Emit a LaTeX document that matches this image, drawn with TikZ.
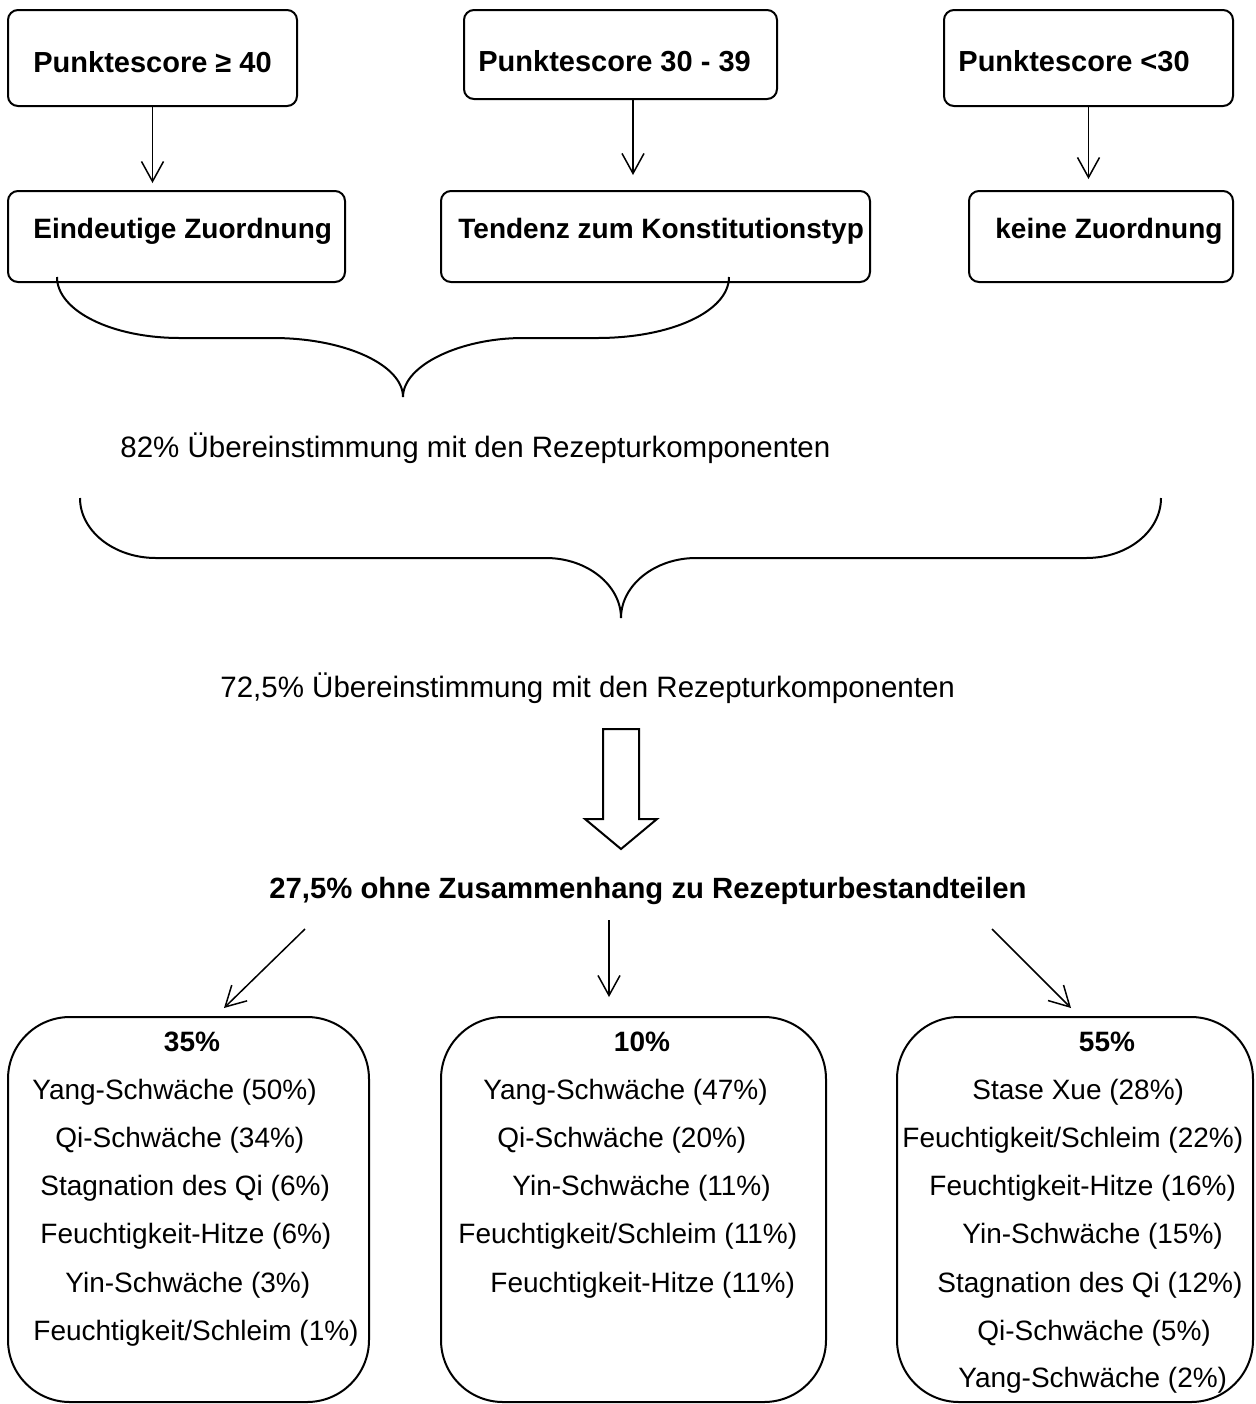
\documentclass[tikz,border=0pt]{standalone}
\usepackage{fontspec}
\setmainfont{Liberation Sans}
\usetikzlibrary{arrows.meta}
\begin{document}
\begin{tikzpicture}[x=0.5pt,y=-0.5pt,
  topbox/.style={draw,line width=1pt,rounded corners=5pt,inner sep=0pt,outer sep=0pt},
  bigbox/.style={draw,line width=1pt,rounded corners=31pt,inner sep=0pt,outer sep=0pt},
  lbl/.style={inner sep=0pt,anchor=base west,font=\fontsize{14}{16}\selectfont},
  boldlbl/.style={lbl,font=\fontsize{14}{16}\selectfont\bfseries},
  scorelbl/.style={lbl,font=\fontsize{14.5}{16}\selectfont\bfseries},
  freelbl/.style={inner sep=0pt,anchor=base west,font=\fontsize{14.75}{17}\selectfont},
  head/.style={inner sep=0pt,anchor=base,font=\fontsize{14}{16}\selectfont\bfseries},
  arr/.style={line width=0.75pt,-{Straight Barb[length=10pt,width=11pt]}},
  brace/.style={line width=1pt},
]
\useasboundingbox (0,0) rectangle (1255,1404);

% score boxes
\node[topbox,minimum width=144.5pt,minimum height=48pt]   (p1) at (152.5,58)   {};
\node[topbox,minimum width=156.5pt,minimum height=44.5pt] (p2) at (620.5,54.5) {};
\node[topbox,minimum width=144.5pt,minimum height=48pt]   (p3) at (1088.5,58)  {};
\node[scorelbl] (p1t) at (33,72)  {Punktescore ≥ 40};
\node[scorelbl] (p2t) at (478,71) {Punktescore 30 - 39};
\node[scorelbl] (p3t) at (958,71) {Punktescore <30};

% classification boxes
\node[topbox,minimum width=168.5pt,minimum height=45.5pt] (t1) at (176.5,236.5) {};
\node[topbox,minimum width=214.5pt,minimum height=45.5pt] (t2) at (655.5,236.5) {};
\node[topbox,minimum width=132pt,minimum height=45.5pt]   (t3) at (1101,236.5)  {};
\node[boldlbl] (t1t) at (33,238)  {Eindeutige Zuordnung};
\node[boldlbl] (t2t) at (458,238) {Tendenz zum Konstitutionstyp};
\node[boldlbl] (t3t) at (995,238) {keine Zuordnung};

% score -> classification
\draw[arr,shorten >=4pt] (p1.south) -- (p1.south |- t1.north);
\draw[arr,shorten >=8pt] ([xshift=6.25pt]p2.south) -- ([xshift=6.25pt]p2.south |- t2.north);
\draw[arr,shorten >=6pt] (p3.south) -- (p3.south |- t3.north);

% first brace
\draw[brace] (57,277) .. controls (57,311) and (112,338) .. (180,338) -- (273,338)
  .. controls (345,338) and (403,365) .. (403,397)
  .. controls (403,365) and (461,338) .. (523,338) -- (597,338)
  .. controls (672,338) and (729,311) .. (729,277);

\node[freelbl] (m82) at (120,457) {82\% Übereinstimmung mit den Rezepturkomponenten};

% second brace
\draw[brace] (80,498) .. controls (80,531) and (114,558) .. (156,558) -- (546,558)
  .. controls (587,558) and (621,585) .. (621,618)
  .. controls (621,585) and (655,558) .. (696,558) -- (1086,558)
  .. controls (1128,558) and (1161,531) .. (1161,498);

\node[freelbl] (m72) at (220,697) {72,5\% Übereinstimmung mit den Rezepturkomponenten};

% hollow block arrow
\draw[line width=1pt,line join=miter] (603,729) -- (639,729) -- (639,819) -- (657,819)
  -- (621,849) -- (585,819) -- (603,819) -- cycle;

\node[freelbl,font=\fontsize{14.65}{17}\selectfont\bfseries] (ohne) at (269,898)
  {27,5\% ohne Zusammenhang zu Rezepturbestandteilen};

% pattern boxes
\node[bigbox,minimum width=180.5pt,minimum height=192.5pt] (g1) at (188.5,1209.5) {};
\node[bigbox,minimum width=192.5pt,minimum height=192.5pt] (g2) at (633.5,1209.5) {};
\node[bigbox,minimum width=178pt,minimum height=192.5pt]   (g3) at (1075,1209.5)  {};

\coordinate (s1) at (305,929);
\coordinate (s2) at (609,920);
\coordinate (s3) at (992,929);
\draw[arr] (s1) -- ([xshift=17.75pt,yshift=4.5pt]g1.north);
\draw[arr] (s2) -- ([xshift=-12.25pt,yshift=10pt]g2.north);
\draw[arr] (s3) -- ([xshift=-2pt,yshift=4.5pt]g3.north);

% contents of the first pattern box
\node[head] (h1) at (192,1051) {35\%};
\node[lbl] (a1) at (32,1099) {Yang-Schwäche (50\%)};
\node[lbl] (a2) at (55,1147) {Qi-Schwäche (34\%)};
\node[lbl] (a3) at (40,1195) {Stagnation des Qi (6\%)};
\node[lbl] (a4) at (40,1243) {Feuchtigkeit-Hitze (6\%)};
\node[lbl] (a5) at (65,1292) {Yin-Schwäche (3\%)};
\node[lbl] (a6) at (33,1340) {Feuchtigkeit/Schleim (1\%)};

% contents of the second pattern box
\node[head] (h2) at (642,1051) {10\%};
\node[lbl] (b1) at (483,1099) {Yang-Schwäche (47\%)};
\node[lbl] (b2) at (497,1147) {Qi-Schwäche (20\%)};
\node[lbl] (b3) at (512,1195) {Yin-Schwäche (11\%)};
\node[lbl] (b4) at (458,1243) {Feuchtigkeit/Schleim (11\%)};
\node[lbl] (b5) at (490,1292) {Feuchtigkeit-Hitze (11\%)};

% contents of the third pattern box
\node[head] (h3) at (1107,1051) {55\%};
\node[lbl] (c1) at (972,1099) {Stase Xue (28\%)};
\node[lbl] (c2) at (902,1147) {Feuchtigkeit/Schleim (22\%)};
\node[lbl] (c3) at (929,1195) {Feuchtigkeit-Hitze (16\%)};
\node[lbl] (c4) at (962,1243) {Yin-Schwäche (15\%)};
\node[lbl] (c5) at (937,1292) {Stagnation des Qi (12\%)};
\node[lbl] (c6) at (977,1340) {Qi-Schwäche (5\%)};
\node[lbl] (c7) at (958,1387) {Yang-Schwäche (2\%)};
\end{tikzpicture}
\end{document}
